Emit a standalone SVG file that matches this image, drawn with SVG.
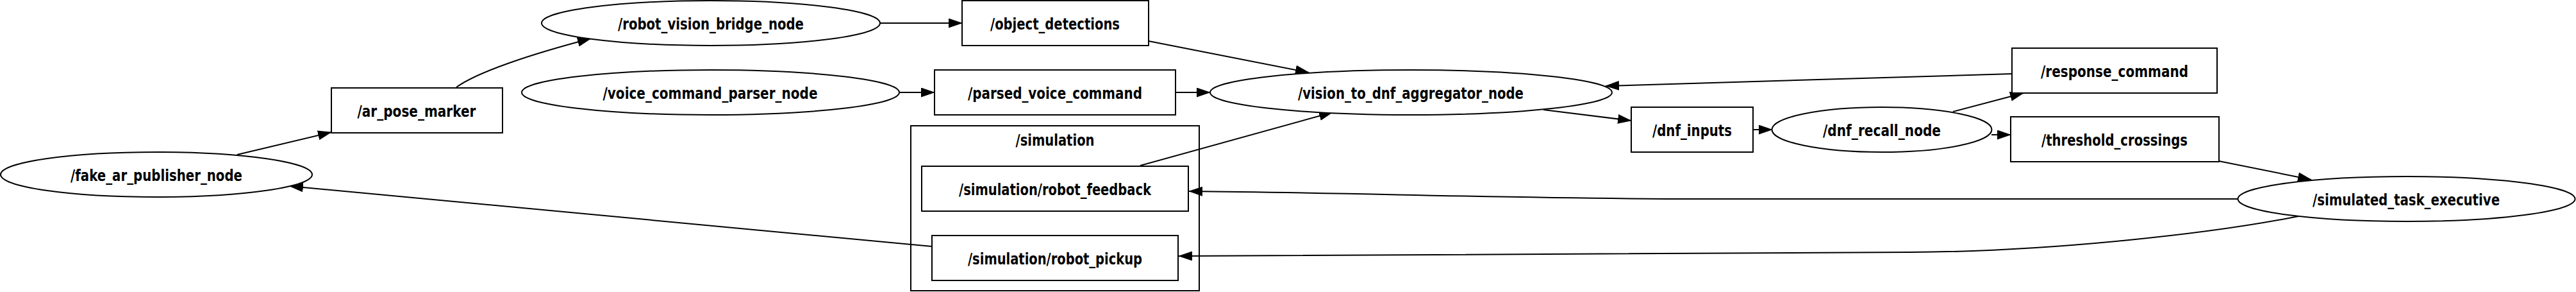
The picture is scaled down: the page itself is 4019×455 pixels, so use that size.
<svg xmlns="http://www.w3.org/2000/svg" width="4019" height="455" viewBox="0 0 4019 455">
<style>
.n{fill:#fff;stroke:#000;stroke-width:2}
.c{fill:none;stroke:#000;stroke-width:2}
.e{fill:none;stroke:#000;stroke-width:2;marker-end:url(#ah)}
text{font-family:"DejaVu Sans","Liberation Sans",sans-serif;font-weight:bold;font-size:24px;fill:#000;text-anchor:middle}
</style>
<defs>
<marker id="ah" markerUnits="userSpaceOnUse" viewBox="0 0 22 15" markerWidth="22" markerHeight="15" refX="21" refY="7.5" orient="auto">
<path d="M0,0 L22,7.5 L0,15 Z" fill="#000"/>
</marker>
</defs>
<rect width="4019" height="455" fill="#fff"/>
<g id="cluster_simulation">
<rect class="c" x="1421" y="196" width="450" height="257"/>
<text x="1646" y="227" textLength="123" lengthAdjust="spacingAndGlyphs">/simulation</text>
</g>
<g id="edges">
<path class="e" d="M370,241 L517,206"/>
<path class="e" d="M712,136 C745,112 830,84 922,60"/>
<path class="e" d="M1373,36 L1501,36"/>
<path class="e" d="M1403,144 L1458,144"/>
<path class="e" d="M1834,144 L1888,144"/>
<path class="e" d="M1792,64 L2042,113"/>
<path class="e" d="M1779,258 L2079,175"/>
<path class="e" d="M3139,115 L2505,134"/>
<path class="e" d="M2408,171 L2545,188"/>
<path class="e" d="M2735,202 L2765,202"/>
<path class="e" d="M3047,174 L3157,145"/>
<path class="e" d="M3107,210 L3137,210"/>
<path class="e" d="M3462,251 L3606,280"/>
<path class="e" d="M3492,310 L2600,310 C2300,308 2100,300 1855,298"/>
<path class="e" d="M3586,337 C3450,364 3200,392 2980,393 L1839,399"/>
<path class="e" d="M1454,384 L452,290"/>
</g>
<g id="fake_ar_publisher_node">
<ellipse class="n" cx="244" cy="272" rx="243" ry="35"/>
<text x="244" y="282" textLength="268" lengthAdjust="spacingAndGlyphs">/fake_ar_publisher_node</text>
</g>
<g id="ar_pose_marker">
<rect class="n" x="517" y="137" width="267" height="70"/>
<text x="650" y="182" textLength="185" lengthAdjust="spacingAndGlyphs">/ar_pose_marker</text>
</g>
<g id="robot_vision_bridge_node">
<ellipse class="n" cx="1109" cy="36" rx="264" ry="35"/>
<text x="1109" y="46" textLength="290" lengthAdjust="spacingAndGlyphs">/robot_vision_bridge_node</text>
</g>
<g id="object_detections">
<rect class="n" x="1501" y="1" width="291" height="70"/>
<text x="1646" y="46" textLength="202" lengthAdjust="spacingAndGlyphs">/object_detections</text>
</g>
<g id="voice_command_parser_node">
<ellipse class="n" cx="1108.5" cy="144" rx="294.5" ry="35"/>
<text x="1108" y="154" textLength="335" lengthAdjust="spacingAndGlyphs">/voice_command_parser_node</text>
</g>
<g id="parsed_voice_command">
<rect class="n" x="1458" y="109" width="376" height="70"/>
<text x="1646" y="154" textLength="272" lengthAdjust="spacingAndGlyphs">/parsed_voice_command</text>
</g>
<g id="simulation_robot_feedback">
<rect class="n" x="1438" y="259" width="416" height="70"/>
<text x="1646" y="304" textLength="300" lengthAdjust="spacingAndGlyphs">/simulation/robot_feedback</text>
</g>
<g id="simulation_robot_pickup">
<rect class="n" x="1454" y="367" width="384" height="70"/>
<text x="1646" y="412" textLength="272" lengthAdjust="spacingAndGlyphs">/simulation/robot_pickup</text>
</g>
<g id="vision_to_dnf_aggregator_node">
<ellipse class="n" cx="2201.5" cy="144" rx="313.5" ry="35"/>
<text x="2201" y="154" textLength="352" lengthAdjust="spacingAndGlyphs">/vision_to_dnf_aggregator_node</text>
</g>
<g id="dnf_inputs">
<rect class="n" x="2545" y="167" width="190" height="70"/>
<text x="2640" y="212" textLength="124" lengthAdjust="spacingAndGlyphs">/dnf_inputs</text>
</g>
<g id="dnf_recall_node">
<ellipse class="n" cx="2936" cy="202" rx="171.5" ry="35"/>
<text x="2936" y="212" textLength="184" lengthAdjust="spacingAndGlyphs">/dnf_recall_node</text>
</g>
<g id="response_command">
<rect class="n" x="3139" y="75" width="320" height="70"/>
<text x="3299" y="120" textLength="230" lengthAdjust="spacingAndGlyphs">/response_command</text>
</g>
<g id="threshold_crossings">
<rect class="n" x="3137" y="182" width="325" height="70"/>
<text x="3299" y="227" textLength="228" lengthAdjust="spacingAndGlyphs">/threshold_crossings</text>
</g>
<g id="simulated_task_executive">
<ellipse class="n" cx="3754.5" cy="310" rx="263" ry="35"/>
<text x="3754" y="320" textLength="292" lengthAdjust="spacingAndGlyphs">/simulated_task_executive</text>
</g>
</svg>
